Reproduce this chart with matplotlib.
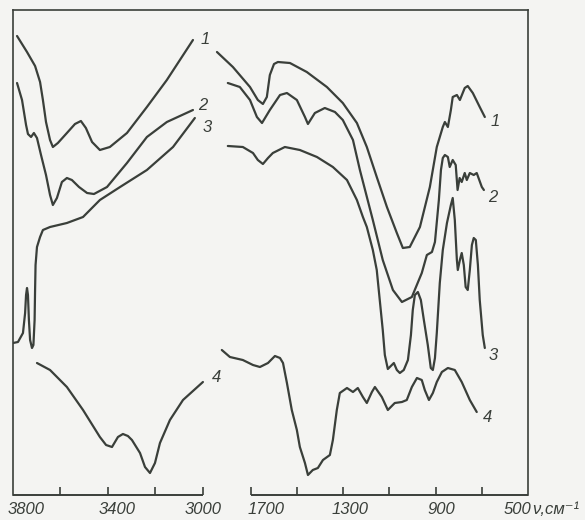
import numpy as np
import matplotlib
matplotlib.use("Agg")
import matplotlib.pyplot as plt

# ---------------- data (wavenumber cm-1, transmittance arbitrary units) -------------
c1_hi_nu = [3783, 3741, 3707, 3686, 3674, 3661, 3644, 3632, 3611, 3573, 3539, 3514, 3493,
            3467, 3434, 3392, 3320, 3236, 3152, 3042]
c1_hi_t = [459, 443, 429, 413, 395, 373, 355, 348, 352, 362, 371, 374, 367,
           353, 345, 348, 362, 388, 415, 455]

c2_hi_nu = [3783, 3762, 3745, 3737, 3724, 3712, 3699, 3682, 3661, 3644, 3632, 3615, 3594,
            3573, 3552, 3522, 3488, 3459, 3404, 3320, 3236, 3152, 3042]
c2_hi_t = [412, 395, 370, 361, 358, 362, 357, 340, 320, 300, 290, 297, 313,
           317, 315, 308, 302, 301, 308, 332, 358, 373, 385]

c3_hi_nu = [3800, 3779, 3758, 3749, 3745, 3741, 3737, 3733, 3728, 3720, 3714, 3709, 3707,
            3705, 3699, 3686, 3674, 3644, 3573, 3505, 3434, 3349, 3236, 3126, 3034]
c3_hi_t = [152, 153, 162, 182, 200, 207, 200, 175, 155, 147, 150, 175, 205,
           230, 248, 258, 265, 268, 272, 278, 295, 308, 325, 348, 377]

c4_hi_nu = [3699, 3644, 3573, 3505, 3434, 3408, 3383, 3358, 3337, 3316, 3299, 3265, 3244,
            3223, 3202, 3181, 3139, 3084, 3000]
c4_hi_t = [132, 125, 108, 85, 58, 50, 48, 58, 61, 59, 55, 42, 28,
           22, 32, 52, 75, 95, 113]

c1_lo_nu = [1847, 1778, 1704, 1670, 1648, 1631, 1618, 1600, 1583, 1531, 1458, 1371, 1302,
            1241, 1198, 1155, 1111, 1068, 1042, 1012, 968, 925, 895, 869, 860, 847, 834,
            826, 808, 795, 774, 761, 739, 709, 687]
c1_lo_t = [443, 428, 408, 395, 391, 398, 420, 431, 433, 432, 423, 408, 392,
           372, 348, 318, 288, 262, 247, 248, 268, 308, 348, 368, 373, 368, 385,
           398, 400, 395, 407, 409, 402, 388, 378]

c2_lo_nu = [1800, 1748, 1704, 1674, 1652, 1618, 1574, 1544, 1501, 1466, 1453, 1423, 1380,
            1336, 1302, 1258, 1228, 1172, 1129, 1085, 1046, 1003, 960, 938, 916, 903, 886,
            877, 869, 860, 847, 839, 826, 813, 805, 796, 787, 774, 765, 752, 735, 722,
            700, 691]
c2_lo_t = [412, 408, 395, 378, 372, 385, 400, 402, 395, 378, 371, 382, 387,
           383, 375, 355, 325, 275, 235, 205, 193, 198, 222, 240, 243, 253, 295,
           325, 337, 340, 338, 328, 335, 330, 305, 317, 313, 322, 315, 322, 320, 322,
           308, 305]

c3_lo_nu = [1800, 1735, 1691, 1670, 1648, 1626, 1605, 1553, 1488, 1414, 1345, 1284, 1241,
            1215, 1198, 1172, 1155, 1142, 1129, 1120, 1107, 1094, 1081, 1068, 1055, 1038,
            1020, 1007, 999, 990, 977, 964, 951, 934, 921, 912, 903, 895, 882, 869, 851,
            834, 826, 817, 808, 804, 795, 787, 778, 770, 761, 752, 743, 735, 726, 717,
            709, 696, 687]
c3_lo_t = [349, 348, 342, 335, 331, 337, 342, 348, 345, 338, 328, 315, 295,
           278, 268, 245, 225, 195, 165, 140, 126, 129, 132, 125, 122, 125,
           135, 160, 185, 200, 203, 195, 175, 150, 127, 125, 137, 162, 212, 245, 272,
           290, 297, 275, 235, 225, 235, 242, 230, 208, 205, 225, 250, 257, 255, 230,
           195, 160, 147]

c4_lo_nu = [1826, 1791, 1735, 1691, 1661, 1626, 1596, 1574, 1561, 1544, 1523, 1501, 1488,
            1466, 1453, 1432, 1410, 1388, 1358, 1345, 1328, 1315, 1284, 1258, 1237, 1215,
            1198, 1176, 1163, 1133, 1107, 1077, 1046, 1025, 1003, 981, 960, 947, 929, 912,
            895, 873, 847, 817, 787, 752, 722]
c4_lo_t = [145, 138, 135, 130, 128, 132, 139, 137, 132, 112, 85, 65, 48,
           32, 20, 25, 27, 35, 40, 55, 85, 102, 107, 103, 107, 98,
           92, 103, 108, 98, 85, 92, 93, 95, 108, 117, 115, 105, 95, 102,
           113, 123, 127, 125, 113, 95, 83]

tick_major = [3800, 3400, 3000, 1700, 1300, 900, 500]
tick_labels = ["3800", "3400", "3000", "1700", "1300", "900", "500"]
tick_minor = [3600, 3400, 3200, 3000, 1700, 1500, 1300, 1100, 900, 700]
curve_names = ["1", "2", "3", "4"]

# ---------------- broken wavenumber scale (increasing in wavenumber) ----------------
def _pos(v):
    v = np.asarray(v, float)
    return np.where(v >= 3000, (3800 - v) * 0.2375,
                    np.where(v <= 1900, 238 + (1700 - v) * 0.231,
                             190 + (3000 - v) / 1100 * 1.8))

def _inv_pos(p):
    p = np.asarray(p, float)
    return np.where(p <= 190, 3800 - p / 0.2375,
                    np.where(p >= 191.8, 1700 - (p - 238) / 0.231,
                             3000 - (p - 190) / 1.8 * 1100))

def fwd(v):
    return -_pos(v)

def inv(p):
    return _inv_pos(-np.asarray(p, float))

BG = "#f4f4f2"
LC = "#3a3f3a"

fig = plt.figure(figsize=(5.85, 5.2), dpi=100, facecolor=BG)
ax = fig.add_axes([13 / 585, 1 - 495 / 520, 515 / 585, 485 / 520])
ax.set_facecolor(BG)
ax.set_xscale("function", functions=(fwd, inv))
ax.set_xlim(3800, 500)
ax.set_ylim(0, 485)

lw = 1.6
series = [(c1_hi_nu, c1_hi_t), (c2_hi_nu, c2_hi_t), (c3_hi_nu, c3_hi_t), (c4_hi_nu, c4_hi_t),
          (c1_lo_nu, c1_lo_t), (c2_lo_nu, c2_lo_t), (c3_lo_nu, c3_lo_t), (c4_lo_nu, c4_lo_t)]
for nu, t in series:
    ax.plot(nu, t, color=LC, lw=lw, solid_capstyle="round", solid_joinstyle="round")

# curve labels (offsets in px at 100 dpi -> points)
px = 0.72
lab_offsets = [(12, 1), (10, 5), (12, -10), (14, 4),
               (10, -4), (9, -7), (8, -7), (11, -6)]
lab_font = dict(family=["Liberation Sans", "DejaVu Sans"], style="italic", fontsize=12, color=LC)
for i, ((nu, t), (dx, dy)) in enumerate(zip(series, lab_offsets)):
    ax.annotate(curve_names[i % 4], xy=(nu[-1], t[-1]), xytext=(dx * px, dy * px),
                textcoords="offset points", ha="center", va="center", **lab_font)

# frame
for s in ["left", "right", "top"]:
    ax.spines[s].set_color(LC)
    ax.spines[s].set_linewidth(1.2)
ax.spines["bottom"].set_visible(False)
ax.hlines(0, 3800, 3000, color=LC, lw=1.4, clip_on=False)
ax.hlines(0, 1700, 500, color=LC, lw=1.4, clip_on=False)

ax.set_xticks(tick_minor)
ax.set_xticklabels([])
ax.tick_params(axis="x", direction="in", length=6, width=1.2, color=LC)
ax.set_yticks([])

lab_dx = [13, 9, 0, 15, 7, 6, -11]
for v, s, dx in zip(tick_major, tick_labels, lab_dx):
    ax.annotate(s, xy=(v, 0), xycoords=("data", "axes fraction"),
                xytext=(dx * px, -14 * px), textcoords="offset points",
                ha="center", va="center", annotation_clip=False, **lab_font)
ax.annotate("ν,см⁻¹", xy=(500, 0), xycoords=("data", "axes fraction"),
            xytext=(4 * px, -14 * px), textcoords="offset points",
            ha="left", va="center", annotation_clip=False,
            family=["Liberation Sans", "DejaVu Sans"], style="italic", fontsize=12, color=LC)

fig.savefig("out.png", dpi=100, facecolor=BG)
